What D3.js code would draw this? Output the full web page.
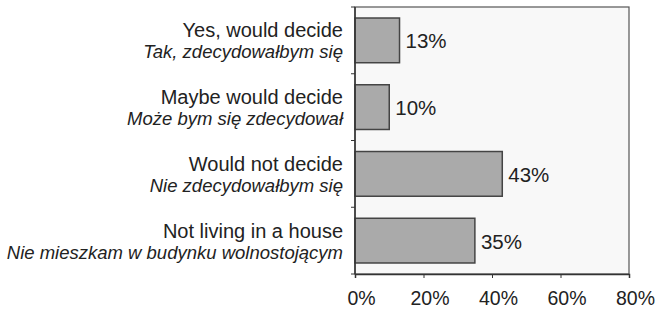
<!DOCTYPE html>
<html>
<head>
<meta charset="utf-8">
<script src="https://cdn.jsdelivr.net/npm/d3@7"></script>
<style>
  body { margin: 0; background: #fff; }
  text { font-family: "Liberation Sans", Arial, sans-serif; fill: #222; }
</style>
</head>
<body>
<script>
// Kategorie (angielski + polski) i wartości w %
const labelsEn = ['Yes, would decide', 'Maybe would decide', 'Would not decide', 'Not living in a house'];
const labelsPl = ['Tak, zdecydowałbym się', 'Może bym się zdecydował', 'Nie zdecydowałbym się', 'Nie mieszkam w budynku wolnostojącym'];
const values = [13, 10, 43, 35];
const ticks = [0, 20, 40, 60, 80];

const width = 663, height = 309;
const margin = { top: 7, right: 34, bottom: 35, left: 355 };

const svg = d3.select('body').append('svg')
  .attr('width', width)
  .attr('height', height);

const x = d3.scaleLinear().domain([0, 80]).range([margin.left, width - margin.right]);
const y = d3.scaleBand().domain(d3.range(values.length)).range([margin.top, height - margin.bottom]).paddingInner(0.33).paddingOuter(0.165);

// tło pola wykresu
svg.append('rect')
  .attr('x', x(0)).attr('y', margin.top)
  .attr('width', x(80) - x(0)).attr('height', height - margin.bottom - margin.top)
  .attr('fill', '#f8f8f8')
  .attr('stroke', '#555').attr('stroke-width', 1.2);

// słupki
svg.selectAll('rect.bar').data(values).join('rect')
  .attr('class', 'bar')
  .attr('x', x(0))
  .attr('y', (d, i) => y(i))
  .attr('width', d => x(d) - x(0))
  .attr('height', y.bandwidth())
  .attr('fill', '#aaaaaa')
  .attr('stroke', '#444').attr('stroke-width', 1.5);

// wartości
svg.selectAll('text.val').data(values).join('text')
  .attr('class', 'val')
  .attr('x', d => x(d) + 6)
  .attr('y', (d, i) => y(i) + y.bandwidth() / 2 + 8)
  .attr('font-size', 20.5)
  .text(d => d + '%');

// oś X
const xAxis = svg.append('g')
  .attr('transform', `translate(0,${height - margin.bottom})`)
  .call(d3.axisBottom(x).tickValues(ticks).tickFormat(d => d + '%').tickSize(4).tickPadding(13));
xAxis.select('.domain').attr('stroke', '#333').attr('stroke-width', 1.5);
xAxis.selectAll('.tick line').attr('stroke', '#333');
xAxis.selectAll('.tick text').attr('font-size', 19.5).attr('dx', 6).attr('fill', '#222').attr('font-family', '"Liberation Sans", Arial, sans-serif');

// oś Y (tylko kreski)
const yTicks = d3.range(values.length + 1).map(i => margin.top + i * (height - margin.bottom - margin.top) / values.length);
svg.append('line')
  .attr('x1', x(0)).attr('x2', x(0))
  .attr('y1', margin.top).attr('y2', height - margin.bottom)
  .attr('stroke', '#333').attr('stroke-width', 1.5);
svg.selectAll('line.ytick').data(yTicks).join('line')
  .attr('class', 'ytick')
  .attr('x1', x(0) - 4).attr('x2', x(0))
  .attr('y1', d => d).attr('y2', d => d)
  .attr('stroke', '#333');

// etykiety kategorii
const labels = svg.selectAll('g.lab').data(labelsEn).join('g')
  .attr('class', 'lab')
  .attr('transform', (d, i) => `translate(343,${y(i) + y.bandwidth() / 2})`);
labels.append('text')
  .attr('text-anchor', 'end')
  .attr('y', -3)
  .attr('font-size', 20)
  .text(d => d);
labels.append('text')
  .attr('text-anchor', 'end')
  .attr('y', 18)
  .attr('font-size', 18.5)
  .attr('font-style', 'italic')
  .text((d, i) => labelsPl[i]);
</script>
</body>
</html>
